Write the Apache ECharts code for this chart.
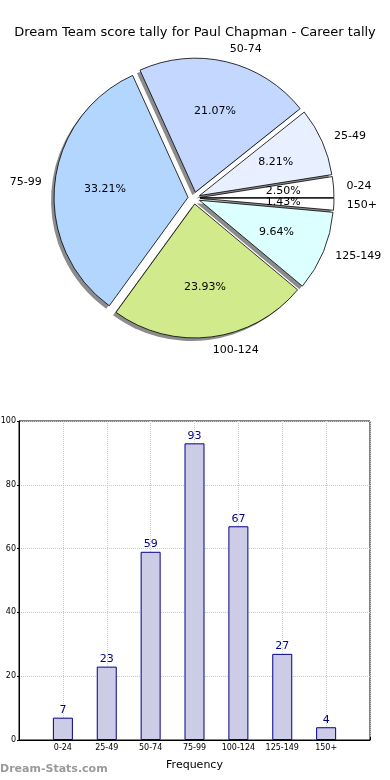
<!DOCTYPE html>
<html>
<head>
<meta charset="utf-8">
<script src="https://cdn.jsdelivr.net/npm/echarts@6/dist/echarts.min.js"></script>
<style>
html,body{margin:0;padding:0;background:#fff;}
#chart{width:390px;height:780px;}
</style>
</head>
<body>
<div id="chart"></div>
<script>
var titleText = 'Dream Team score tally for Paul Chapman - Career tally';
var categories = ['0-24', '25-49', '50-74', '75-99', '100-124', '125-149', '150+'];
var counts = [7, 23, 59, 93, 67, 27, 4];
var sliceColors = ['#FFFFFF', '#E8F0FF', '#C4D8FF', '#B3D6FF', '#D0EA8C', '#DCFFFF', '#FFFFFF'];
var yTicks = [0, 20, 40, 60, 80, 100];
var xAxisName = 'Frequency';
var watermark = 'Dream-Stats.com';

var total = counts.reduce(function (a, b) { return a + b; }, 0);
var FONT = 'DejaVu Sans';

var pieData = categories.map(function (c, i) {
  return { name: c, value: counts[i], selected: true, itemStyle: { color: sliceColors[i] } };
});
var plainData = categories.map(function (c, i) {
  return { name: c, value: counts[i], selected: true };
});

var barCats = [''].concat(categories).concat(['']);
var barData = [null].concat(counts).concat([null]);

var chart = echarts.init(document.getElementById('chart'), null, { renderer: 'canvas' });
var R = 134;
var center = [194, 198];
var shadowCenter = [center[0] - 3, center[1] + 3];
var commonPie = {
  type: 'pie',
  startAngle: 0,
  clockwise: false,
  selectedMode: 'multiple',
  selectedOffset: 6,
  avoidLabelOverlap: false,
  minShowLabelAngle: 0,
  labelLayout: { hideOverlap: false },
  silent: true,
  emphasis: { disabled: true }
};
function pie(extra) { return Object.assign({}, commonPie, extra); }

chart.setOption({
  animation: false,
  backgroundColor: '#fff',
  title: {
    text: titleText,
    left: 'center',
    top: 21,
    textStyle: { fontFamily: FONT, fontSize: 13, fontWeight: 'normal', color: '#000' }
  },
  graphic: [{
    type: 'text',
    left: 0,
    top: 764,
    style: { text: watermark, font: 'bold 11px "DejaVu Sans"', fill: '#9a9a9a' }
  }],
  grid: {
    left: 19, right: 20, top: 421, bottom: 40,
    outerBoundsMode: 'none',
    containLabel: false,
    show: true, borderColor: '#000', borderWidth: 1
  },
  xAxis: [{
    type: 'category',
    data: barCats,
    boundaryGap: false,
    name: xAxisName,
    nameLocation: 'middle',
    nameGap: 20,
    nameTextStyle: { fontFamily: FONT, fontSize: 11, color: '#000' },
    axisLine: { lineStyle: { color: '#000' } },
    axisTick: { show: true, inside: true, length: 3, lineStyle: { color: '#000' } },
    axisLabel: { fontFamily: FONT, fontSize: 8, color: '#000', margin: 4, interval: 0 },
    splitLine: { show: true, lineStyle: { color: '#cccccc', type: 'dotted', width: 1 } }
  }],
  yAxis: [{
    type: 'value',
    min: yTicks[0],
    max: yTicks[yTicks.length - 1],
    interval: yTicks[1] - yTicks[0],
    axisLine: { show: true, lineStyle: { color: '#000' } },
    axisTick: { show: true, inside: false, length: 2, lineStyle: { color: '#000' } },
    axisLabel: { fontFamily: FONT, fontSize: 8, color: '#000', margin: 3 },
    splitLine: { show: true, lineStyle: { color: '#cccccc', type: 'dotted', width: 1 } }
  }],
  series: [
    pie({
      z: 1,
      center: shadowCenter,
      radius: [0, R],
      data: plainData,
      itemStyle: { color: '#8c8c8c', borderWidth: 0 },
      label: { show: false },
      labelLine: { show: false }
    }),
    pie({
      z: 2,
      center: center,
      radius: [0, R],
      data: pieData,
      itemStyle: { borderColor: '#000', borderWidth: 0.8 },
      label: {
        show: true,
        position: 'outside',
        formatter: '{b}',
        fontFamily: FONT, fontSize: 11, color: '#000',
        distanceToLabelLine: 0
      },
      labelLine: { show: false, length: 13, length2: 0 }
    }),
    pie({
      z: 3,
      center: center,
      radius: [0, R * 1.2],
      data: plainData,
      itemStyle: { color: 'rgba(0,0,0,0)', borderWidth: 0 },
      label: {
        show: true,
        position: 'inside',
        formatter: function (p) { return (p.value / total * 100).toFixed(2) + '%'; },
        fontFamily: FONT, fontSize: 11, color: '#000'
      },
      labelLine: { show: false }
    }),
    {
      type: 'bar',
      data: barData,
      barWidth: 20,
      itemStyle: { color: '#CCCCE6', borderColor: '#00008B', borderWidth: 1 },
      label: {
        show: true, position: 'top', distance: 2,
        fontFamily: FONT, fontSize: 11, color: '#00008B'
      },
      silent: true
    }
  ]
});
</script>
</body>
</html>
